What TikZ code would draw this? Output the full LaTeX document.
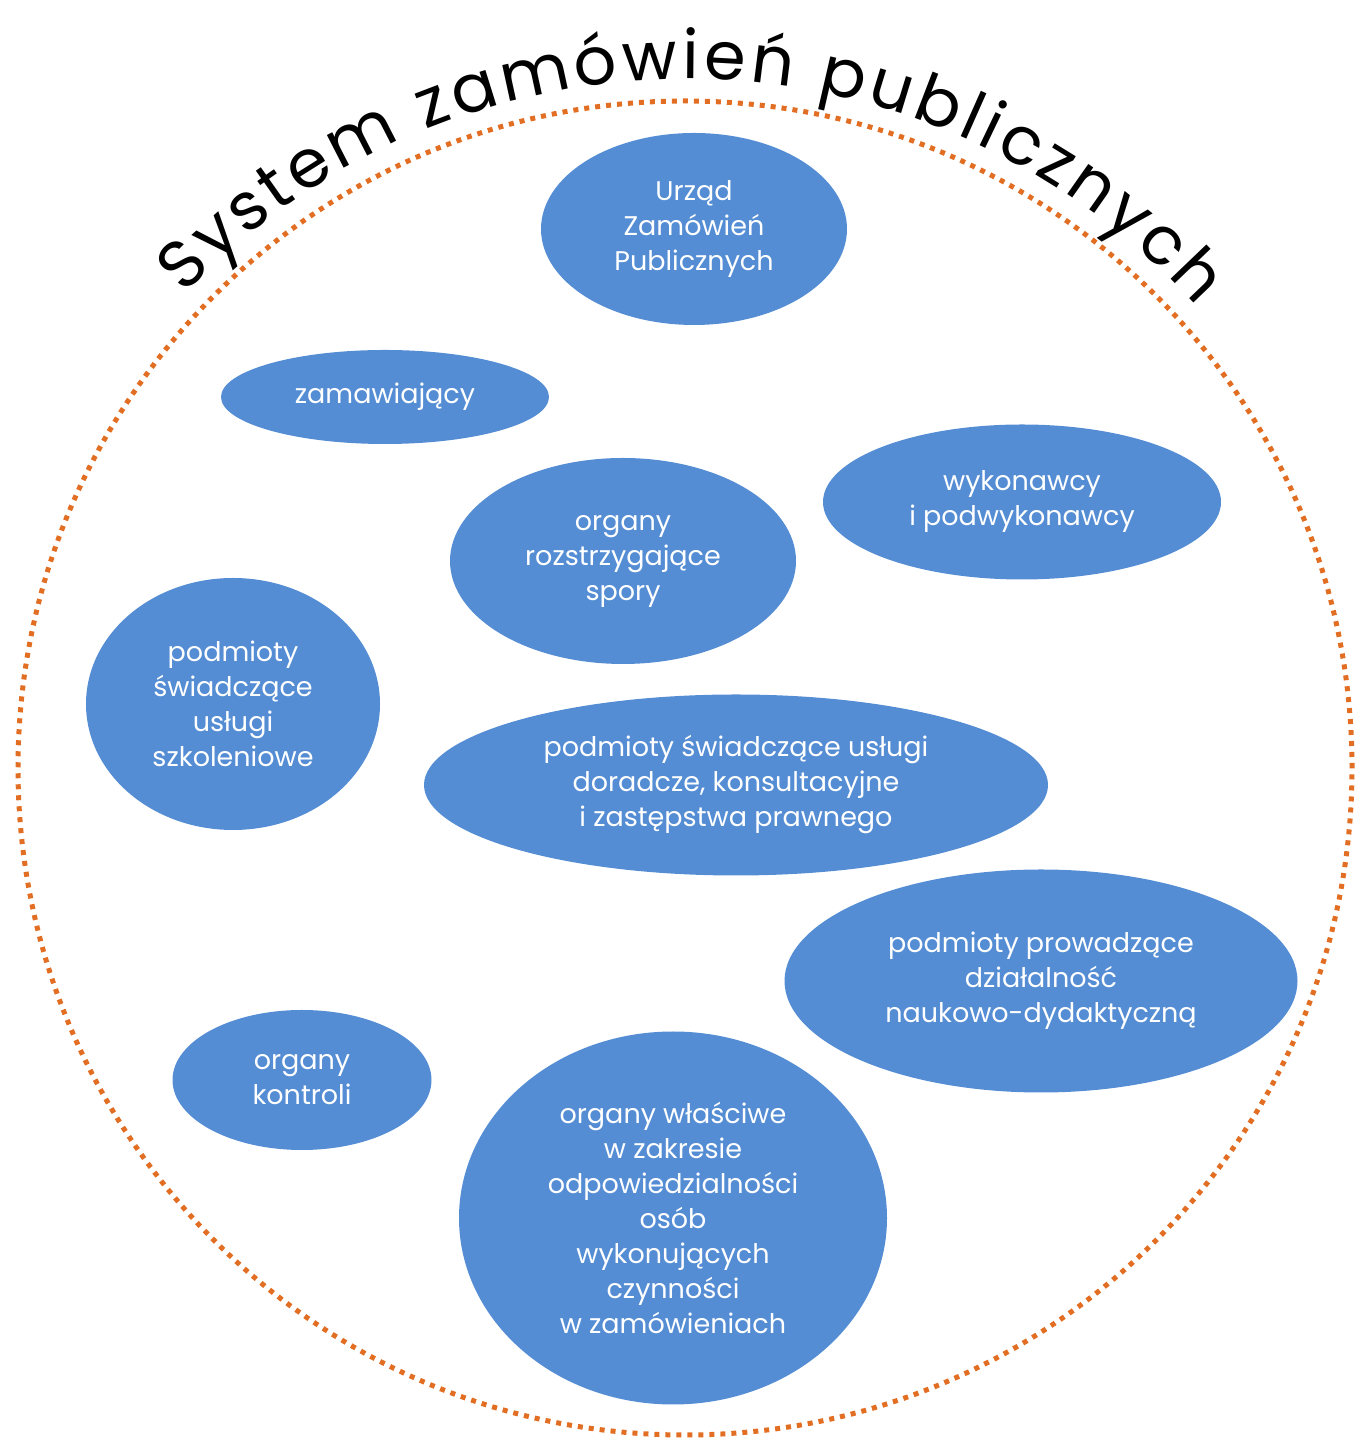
\documentclass[tikz,border=0pt]{standalone}
\usepackage{fontspec}
\newfontfamily\gfont{Poppins}
\usetikzlibrary{shapes.geometric,decorations.text}
\definecolor{bblue}{RGB}{84,141,212}
\definecolor{dotorange}{RGB}{226,110,35}
\newcommand\titlefont{\gfont\fontsize{67}{75}\selectfont}
\begin{document}
\begin{tikzpicture}[x=1pt,y=1pt,
  bubble/.style={ellipse, fill=bblue, draw=none, inner sep=0pt, text=white,
    align=center, font=\gfont\fontsize{27}{35}\selectfont},
  ring/.style={draw=dotorange, line width=5pt, dash pattern=on 5pt off 6pt}]
\useasboundingbox (0,0) rectangle (1355,1440);
\draw[ring] (685,672) circle[radius=667];
\path[decorate, decoration={text along path,
   text={|\titlefont|System zamówień publicznych},
   text align={fit to path}, text color=black}]
  (685,672) ++(136.6:689) arc[start angle=136.6, end angle=42, radius=689];
\node[bubble, minimum width=306, minimum height=192] (n1) at (694,1211) {Urząd\\Zamówień\\Publicznych};
\node[bubble, minimum width=328, minimum height=94] (n2) at (385,1043) {zamawiający};
\node[bubble, minimum width=398, minimum height=155] (n3) at (1022,938) {wykonawcy\\i podwykonawcy};
\node[bubble, minimum width=346, minimum height=206] (n4) at (623,879) {organy\\rozstrzygające\\spory};
\node[bubble, minimum width=294, minimum height=252] (n5) at (233,736) {podmioty\\świadczące\\usługi\\szkoleniowe};
\node[bubble, minimum width=624, minimum height=181] (n6) at (736,655) {podmioty świadczące usługi\\doradcze, konsultacyjne\\i zastępstwa prawnego};
\node[bubble, minimum width=513, minimum height=223] (n7) at (1041,459) {podmioty prowadzące\\działalność\\naukowo-dydaktyczną};
\node[bubble, minimum width=259, minimum height=140] (n8) at (302,360) {organy\\kontroli};
\node[bubble, minimum width=428, minimum height=373] (n9) at (673,222) {organy właściwe\\w zakresie\\odpowiedzialności\\osób\\wykonujących\\czynności\\w zamówieniach};
\end{tikzpicture}
\end{document}
